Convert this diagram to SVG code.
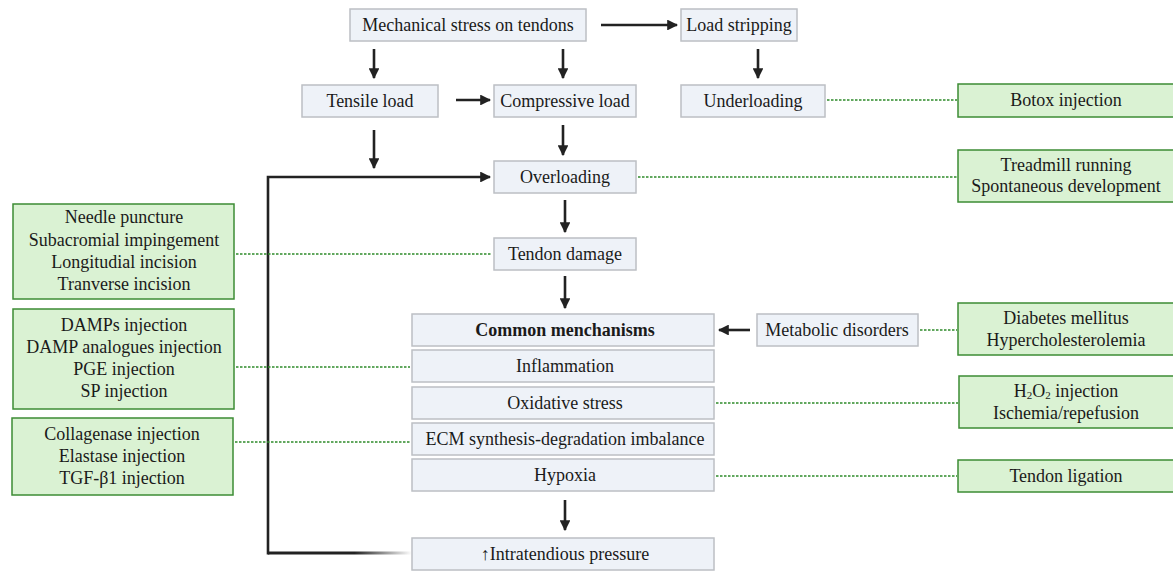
<svg xmlns="http://www.w3.org/2000/svg" width="1173" height="571" viewBox="0 0 1173 571">
<style>
.n{fill:#eef2f8;stroke:#bcbfc4;stroke-width:1.5}
.g{fill:#daf2d3;stroke:#3d8c34;stroke-width:1.5}
text{font-family:"Liberation Serif","Times New Roman",serif;font-size:18px;fill:#1a1a1a;text-anchor:middle}
.b{font-weight:bold}
.a{stroke:#222;stroke-width:2.6;fill:none;marker-end:url(#ah)}
.d{stroke:#2e8a2a;stroke-width:1.5;stroke-dasharray:2.5 1.5;fill:none}
</style>
<defs>
<marker id="ah" viewBox="0 0 10 10" refX="9" refY="5" markerWidth="4.2" markerHeight="4.2" orient="auto" markerUnits="strokeWidth">
<path d="M0,0 L10,5 L0,10 z" fill="#222"/>
</marker>
<linearGradient id="fade" gradientUnits="userSpaceOnUse" x1="268" y1="0" x2="412" y2="0">
<stop offset="0.6" stop-color="#222" stop-opacity="1"/>
<stop offset="1" stop-color="#222" stop-opacity="0"/>
</linearGradient>
</defs>
<g id="connectors">
<path class="a" d="M601,25 H677"/>
<path class="a" d="M374,49 V78"/>
<path class="a" d="M563,49 V78"/>
<path class="a" d="M758,49 V78"/>
<path class="a" d="M456,100 H490"/>
<path class="a" d="M374,130 V168"/>
<path class="a" d="M563,125 V155"/>
<path class="a" d="M565,200 V232"/>
<path class="a" d="M565,276 V308"/>
<path class="a" d="M750,330 H719"/>
<path class="a" d="M565,500 V530"/>
<path d="M412,553 H268" stroke="url(#fade)" stroke-width="3" fill="none"/>
<path class="a" d="M268,554.5 V177 H490" stroke-width="3"/>
<path class="d" d="M827,100 H957"/>
<path class="d" d="M638,177 H957"/>
<path class="d" d="M236,254 H492"/>
<path class="d" d="M920,330 H957"/>
<path class="d" d="M236,367 H410"/>
<path class="d" d="M235,442 H410"/>
<path class="d" d="M716,403 H958"/>
<path class="d" d="M716,476 H957"/>
</g>
<g id="mech"><rect class="n" x="350" y="9" width="236" height="32"/><text x="468" y="31">Mechanical stress on tendons</text></g>
<g id="loadstrip"><rect class="n" x="681" y="9" width="116" height="32"/><text x="739" y="31">Load stripping</text></g>
<g id="tensile"><rect class="n" x="302" y="85" width="136" height="32"/><text x="370" y="107">Tensile load</text></g>
<g id="compressive"><rect class="n" x="494" y="85" width="142" height="32"/><text x="565" y="107">Compressive load</text></g>
<g id="underloading"><rect class="n" x="681" y="85" width="144" height="32"/><text x="753" y="107">Underloading</text></g>
<g id="botox"><rect class="g" x="958" y="84" width="216" height="33"/><text x="1066" y="106">Botox injection</text></g>
<g id="overloading"><rect class="n" x="494" y="161" width="142" height="32"/><text x="565" y="183">Overloading</text></g>
<g id="treadmill"><rect class="g" x="958" y="150" width="216" height="52"/><text x="1066" y="171">Treadmill running</text><text x="1066" y="192">Spontaneous development</text></g>
<g id="damage"><rect class="n" x="494" y="238" width="142" height="32"/><text x="565" y="260">Tendon damage</text></g>
<g id="left1"><rect class="g" x="13" y="204" width="221" height="95"/><text x="124" y="223">Needle puncture</text><text x="124" y="246">Subacromial impingement</text><text x="124" y="268">Longitudial incision</text><text x="124" y="290">Tranverse incision</text></g>
<g id="common"><rect class="n" x="412" y="314" width="302" height="32"/><text class="b" x="565" y="336">Common menchanisms</text></g>
<g id="metabolic"><rect class="n" x="757" y="314" width="161" height="32"/><text x="837" y="336">Metabolic disorders</text></g>
<g id="diabetes"><rect class="g" x="958" y="303" width="216" height="52"/><text x="1066" y="324">Diabetes mellitus</text><text x="1066" y="346">Hypercholesterolemia</text></g>
<g id="inflammation"><rect class="n" x="412" y="350" width="302" height="32"/><text x="565" y="372">Inflammation</text></g>
<g id="oxidative"><rect class="n" x="412" y="387" width="302" height="32"/><text x="565" y="409">Oxidative stress</text></g>
<g id="ecm"><rect class="n" x="412" y="423" width="302" height="32"/><text x="565" y="445">ECM synthesis-degradation imbalance</text></g>
<g id="hypoxia"><rect class="n" x="412" y="459" width="302" height="32"/><text x="565" y="481">Hypoxia</text></g>
<g id="left2"><rect class="g" x="13" y="309" width="221" height="100"/><text x="124" y="331">DAMPs injection</text><text x="124" y="353">DAMP analogues injection</text><text x="124" y="375">PGE injection</text><text x="124" y="397">SP injection</text></g>
<g id="left3"><rect class="g" x="12" y="418" width="221" height="77"/><text x="122" y="440">Collagenase injection</text><text x="122" y="462">Elastase injection</text><text x="122" y="484">TGF-β1 injection</text></g>
<g id="h2o2"><rect class="g" x="959" y="376" width="215" height="52"/><text x="1066" y="397">H<tspan font-size="11" dy="2">2</tspan><tspan dy="-2">O</tspan><tspan font-size="11" dy="2">2</tspan><tspan dy="-2"> injection</tspan></text><text x="1066" y="419">Ischemia/repefusion</text></g>
<g id="ligation"><rect class="g" x="958" y="460" width="216" height="32"/><text x="1066" y="482">Tendon ligation</text></g>
<g id="pressure"><rect class="n" x="412" y="538" width="302" height="32"/><text x="565" y="560">↑Intratendious pressure</text></g>
</svg>
